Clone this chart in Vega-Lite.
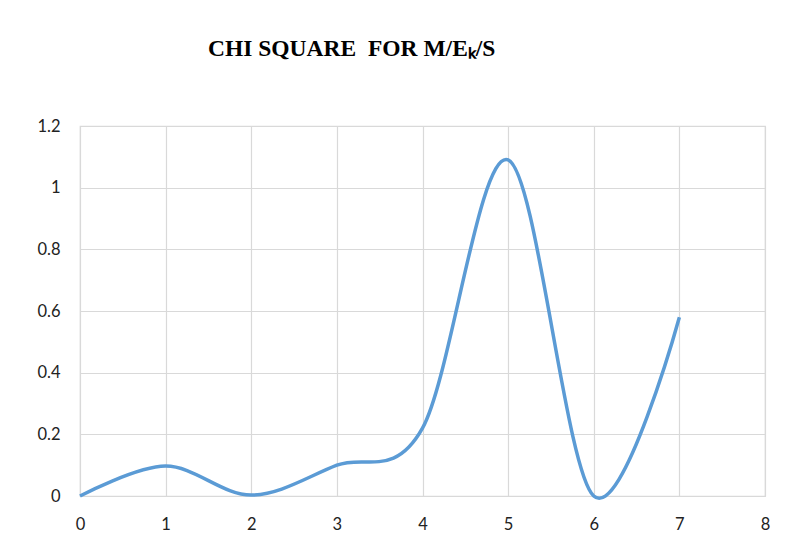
{
  "$schema": "https://vega.github.io/schema/vega-lite/v6.json",
  "width": 685,
  "height": 370,
  "autosize": {"type": "none"},
  "padding": {"left": 80, "top": 126, "right": 45, "bottom": 39},
  "background": "white",
  "title": {
    "text": "CHI SQUARE\u00a0\u00a0FOR M/Eₖ/S",
    "anchor": "start",
    "frame": "group",
    "dx": 128,
    "offset": 58,
    "font": "Liberation Serif",
    "fontSize": 23.5,
    "fontWeight": "bold",
    "color": "#000000"
  },
  "data": {
    "values": [
      {"x": 0, "y": 0},
      {"x": 1, "y": 0.097},
      {"x": 2, "y": 0.003},
      {"x": 3, "y": 0.1},
      {"x": 4, "y": 0.22},
      {"x": 5, "y": 1.09},
      {"x": 6, "y": 0},
      {"x": 7, "y": 0.58}
    ]
  },
  "mark": {"type": "line", "interpolate": "cardinal", "tension": 0, "color": "#5b9bd5", "strokeWidth": 3.5, "clip": false},
  "encoding": {
    "x": {
      "field": "x", "type": "quantitative",
      "scale": {"domain": [0, 8], "nice": false, "zero": false},
      "axis": {"title": null, "values": [0,1,2,3,4,5,6,7,8], "domain": false, "ticks": false, "labelPadding": 20, "labelFont": "Lato", "labelFontSize": 16.5, "labelColor": "#222222", "gridColor": "#d9d9d9", "gridWidth": 1.2, "labelFlush": false}
    },
    "y": {
      "field": "y", "type": "quantitative",
      "scale": {"domain": [0, 1.2], "nice": false},
      "axis": {"title": null, "values": [0,0.2,0.4,0.6,0.8,1,1.2], "format": "~g", "domain": false, "ticks": false, "labelPadding": 20, "labelFont": "Lato", "labelFontSize": 16.5, "labelColor": "#222222", "gridColor": "#d9d9d9", "gridWidth": 1.2, "labelFlush": false}
    }
  },
  "config": {"view": {"stroke": "#d9d9d9", "strokeWidth": 1.2}}
}
